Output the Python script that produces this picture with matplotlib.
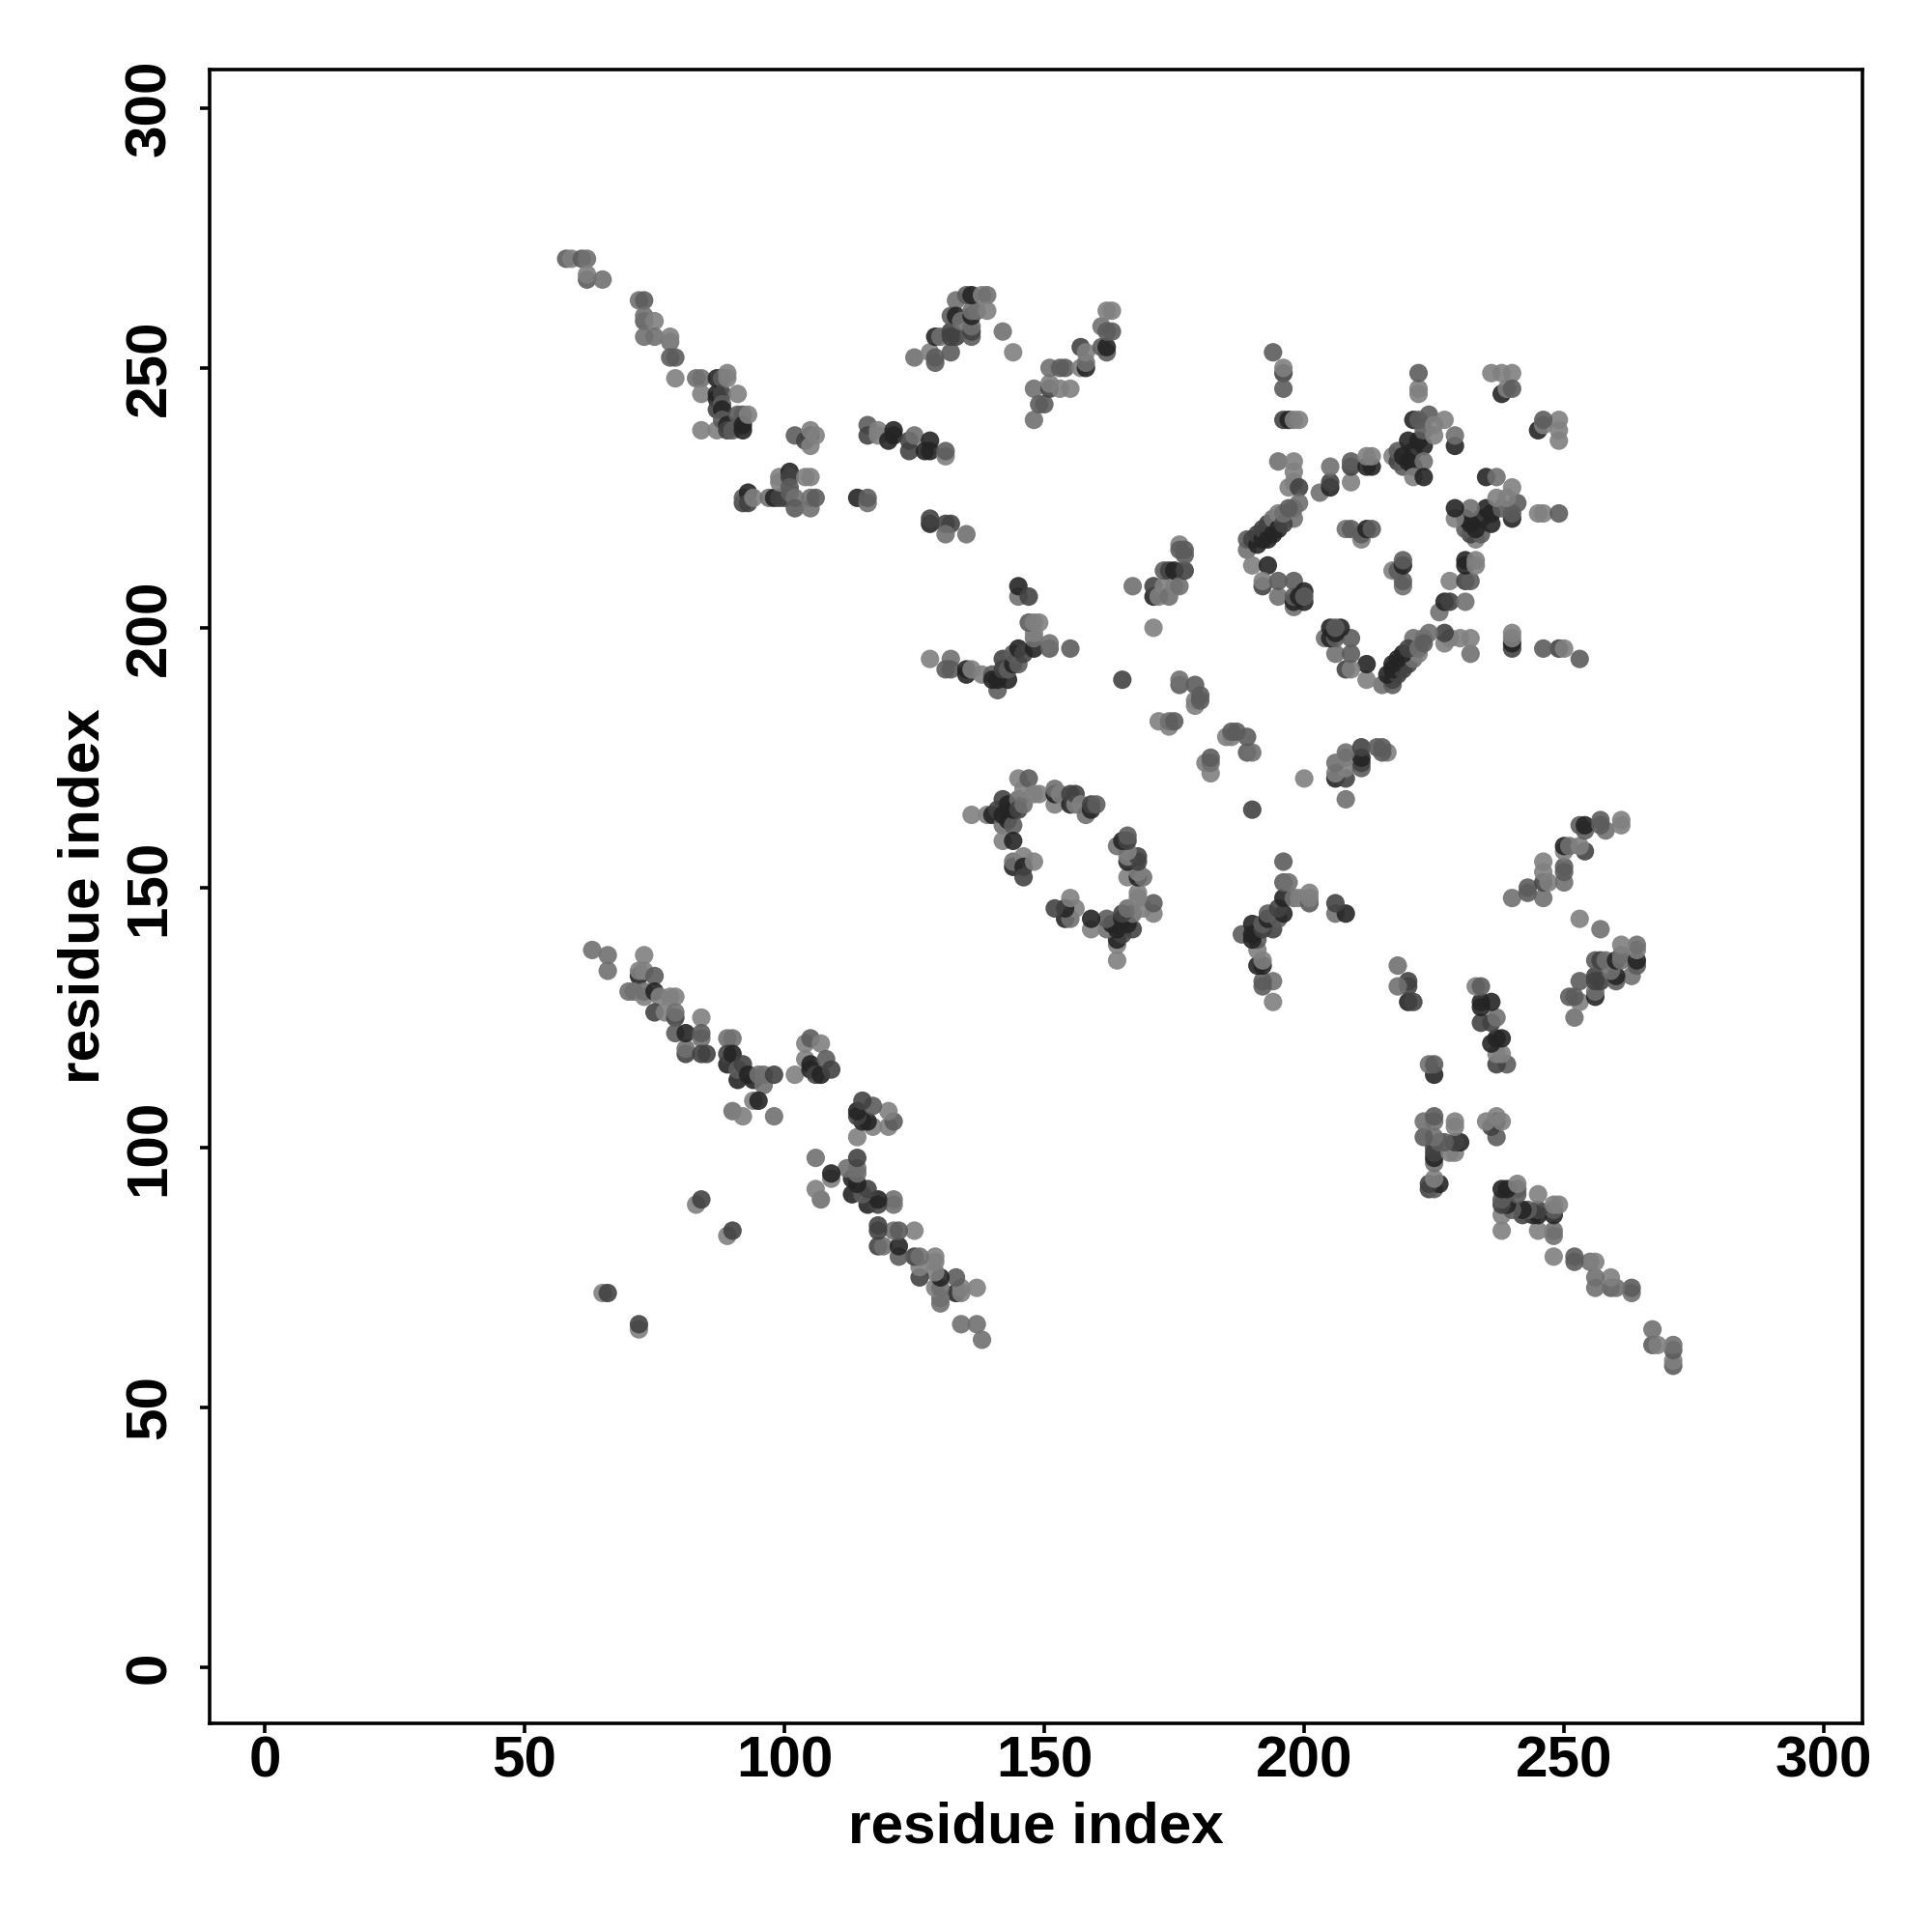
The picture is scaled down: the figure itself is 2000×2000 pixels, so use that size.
import matplotlib
matplotlib.use('Agg')
import matplotlib.pyplot as plt

# contacts as (residue i, residue j, strength 1..5), upper triangle only (j > i)
far_left = [
    (58, 271, 3), (59, 271, 1), (61, 271, 3), (62, 271, 2), (62, 267, 3), (62, 268, 1), (65, 267, 2),
    (72, 263, 2), (73, 263, 3), (73, 259, 3), (73, 260, 2), (75, 259, 1), (73, 256, 2), (75, 256, 2),
    (78, 255, 2), (78, 256, 1), (78, 252, 3), (79, 252, 3), (79, 248, 1),
]
tail_cluster = [
    (83, 248, 2), (84, 248, 2), (84, 245, 1), (84, 238, 1), (87, 248, 5), (87, 245, 5), (87, 244, 5),
    (87, 242, 4), (87, 238, 1), (88, 248, 3), (88, 245, 4), (88, 243, 3), (88, 242, 5), (88, 240, 3),
    (89, 249, 1), (89, 248, 1), (89, 239, 5), (89, 238, 4), (90, 238, 3), (91, 245, 1), (91, 241, 3),
    (92, 241, 3), (92, 239, 5), (92, 238, 5), (93, 241, 1),
    (102, 237, 3), (105, 237, 5), (104, 236, 4), (105, 238, 1), (105, 235, 1), (106, 237, 1),
]
mid_band = [
    (116, 239, 3), (116, 237, 4), (118, 237, 1), (118, 238, 1), (120, 236, 5), (121, 237, 5), (121, 238, 5),
    (124, 234, 4), (124, 236, 4), (125, 237, 2), (127, 234, 5), (128, 234, 5), (128, 236, 5),
    (131, 233, 1), (131, 234, 3),
]
low_band = [
    (92, 224, 4), (92, 225, 3), (93, 226, 5), (93, 224, 4), (94, 225, 1), (97, 225, 2), (98, 225, 5),
    (99, 225, 4), (100, 225, 4), (101, 226, 3), (99, 228, 1), (99, 229, 1), (101, 230, 5), (101, 229, 4),
    (101, 227, 3), (102, 225, 2), (102, 223, 3), (105, 225, 2), (105, 223, 2), (106, 225, 3),
    (104, 229, 1), (105, 229, 1), (114, 225, 5), (116, 224, 2), (116, 225, 3),
    (128, 220, 5), (128, 221, 4), (131, 220, 4), (132, 220, 4), (131, 218, 2), (135, 218, 2),
]
upper_mid = [
    (125, 252, 2), (128, 253, 1), (129, 252, 3), (129, 251, 3), (132, 253, 3), (129, 256, 5), (130, 256, 2),
    (132, 257, 4), (132, 256, 4), (133, 256, 4), (133, 263, 2), (132, 260, 3), (133, 260, 5), (134, 259, 2),
    (136, 256, 3), (136, 257, 4), (136, 258, 2), (136, 260, 5), (136, 261, 2), (137, 261, 2),
    (135, 264, 3), (136, 264, 5), (138, 264, 1), (139, 264, 2), (139, 261, 1), (142, 257, 2), (144, 253, 1),
    (148, 240, 2), (148, 246, 2), (149, 243, 3), (150, 243, 3), (151, 246, 4), (151, 247, 1), (151, 250, 2),
    (153, 250, 3), (154, 250, 3), (153, 246, 1), (155, 246, 1), (157, 250, 1), (158, 250, 5), (158, 251, 2),
    (157, 254, 4), (158, 253, 1), (161, 254, 3), (162, 253, 3), (162, 254, 5), (161, 258, 2), (162, 257, 3),
    (163, 257, 3), (162, 261, 1), (163, 261, 1),
]
center_arm = [
    (128, 194, 1), (132, 194, 2), (131, 192, 3), (132, 192, 3), (135, 191, 5), (135, 192, 5), (136, 192, 1),
    (138, 191, 1), (140, 191, 3), (141, 188, 3), (140, 190, 5), (141, 190, 5), (143, 190, 5), (142, 194, 4),
    (142, 192, 4), (143, 192, 3), (144, 193, 5), (145, 193, 3), (144, 195, 3), (145, 196, 5), (146, 195, 4),
    (148, 196, 5), (148, 198, 2), (148, 199, 1), (147, 201, 3), (148, 201, 1), (149, 201, 1),
    (151, 196, 3), (151, 197, 2), (155, 196, 3), (145, 206, 2), (145, 208, 5), (147, 206, 4),
    (167, 208, 2), (171, 200, 1), (165, 190, 4),
    (171, 206, 5), (171, 208, 4), (172, 206, 1), (173, 208, 1), (173, 211, 3), (174, 211, 4), (174, 206, 2),
    (175, 208, 1), (175, 211, 5), (176, 208, 2), (177, 211, 4), (176, 216, 1), (176, 215, 3), (177, 215, 3), (177, 214, 3),
    (172, 182, 1), (174, 181, 1), (174, 182, 2), (175, 182, 3),
    (176, 189, 3), (176, 190, 2), (179, 189, 3), (179, 186, 1), (179, 185, 1), (180, 186, 3), (180, 187, 3),
]
ring_top = [
    (136, 164, 1), (139, 164, 1), (140, 164, 5), (141, 165, 4), (142, 162, 2), (142, 164, 5), (142, 167, 4),
    (143, 163, 5), (143, 166, 5), (144, 162, 3), (144, 165, 5), (145, 167, 2), (145, 165, 4), (146, 166, 2),
    (145, 171, 1), (146, 169, 1), (147, 171, 3), (148, 168, 1), (149, 168, 1),
    (152, 166, 1), (152, 168, 5), (152, 169, 2), (153, 168, 1), (155, 166, 5), (155, 168, 4), (156, 166, 1),
    (156, 168, 4), (157, 166, 1), (158, 164, 2), (159, 165, 5), (159, 166, 4), (160, 166, 3),
    (142, 159, 1), (144, 159, 5), (144, 154, 5), (144, 155, 2), (146, 156, 1), (146, 154, 5), (148, 155, 1), (146, 152, 4),
]
ring_right = [
    (194, 253, 3), (196, 249, 4), (196, 250, 1), (196, 246, 3), (196, 240, 4), (197, 240, 5), (198, 240, 1), (199, 240, 1),
    (195, 232, 2), (198, 232, 1), (198, 230, 1), (197, 227, 1), (198, 228, 1), (199, 227, 4), (198, 223, 2),
    (199, 224, 2), (198, 221, 2),
    (189, 215, 2), (189, 217, 3), (190, 217, 4), (190, 212, 1), (191, 216, 5), (191, 218, 4), (192, 217, 5),
    (192, 219, 4), (193, 217, 5), (193, 220, 4), (194, 218, 5), (194, 221, 2), (195, 219, 5), (195, 222, 1),
    (196, 220, 4), (196, 222, 2), (197, 223, 3), (193, 212, 5),
    (192, 208, 4), (192, 209, 1), (195, 206, 2), (195, 209, 3), (198, 204, 2), (198, 205, 5), (198, 209, 3),
    (198, 206, 3), (199, 206, 5), (200, 205, 5), (200, 207, 5), (200, 206, 3),
    (203, 226, 2), (205, 227, 5), (205, 228, 4), (205, 231, 2), (209, 228, 1), (209, 231, 4), (209, 232, 3),
    (212, 231, 5), (213, 231, 5), (212, 233, 1), (213, 233, 1),
    (208, 219, 2), (209, 219, 3), (211, 217, 1), (211, 218, 3), (212, 219, 5), (213, 219, 3),
]
ring_corner = [
    (217, 233, 1), (218, 232, 4), (218, 234, 3), (219, 231, 3), (219, 233, 5), (220, 232, 5), (220, 236, 5),
    (221, 231, 5), (221, 234, 5), (221, 229, 1), (221, 240, 5), (222, 236, 5), (222, 240, 3), (223, 235, 5),
    (223, 238, 3), (223, 232, 2), (223, 229, 5), (224, 241, 3), (225, 237, 1), (225, 239, 1), (227, 240, 1),
    (222, 245, 1), (222, 246, 1), (222, 249, 3), (229, 235, 5), (229, 237, 2),
    (236, 249, 1), (238, 249, 1), (240, 249, 1), (238, 245, 5), (239, 246, 1), (240, 246, 3),
]
near_diag = [
    (63, 138, 2), (66, 137, 2), (66, 134, 2), (73, 137, 1), (72, 133, 5), (72, 134, 1), (73, 134, 1), (75, 133, 3),
    (70, 130, 2), (71, 130, 2), (73, 129, 1), (73, 130, 2), (75, 130, 5), (76, 129, 1), (78, 129, 1), (79, 129, 1),
    (75, 126, 4), (77, 126, 1), (79, 125, 4), (79, 126, 2), (79, 122, 3), (81, 118, 4), (81, 119, 2), (81, 122, 5),
    (84, 125, 1), (84, 121, 2), (84, 122, 3), (84, 118, 4), (85, 118, 4),
    (89, 121, 2), (90, 121, 2), (89, 116, 5), (89, 118, 4), (90, 118, 5), (91, 113, 5), (91, 115, 3), (92, 116, 4),
    (93, 114, 5), (94, 113, 5), (95, 114, 2), (96, 114, 2), (96, 112, 2), (98, 114, 4), (102, 114, 1),
    (94, 109, 1), (95, 109, 5), (90, 107, 2), (92, 106, 1), (98, 106, 2),
    (104, 117, 1), (104, 120, 1), (105, 115, 5), (105, 116, 5), (105, 121, 3), (106, 114, 4), (107, 114, 5),
    (107, 120, 1), (108, 117, 3), (109, 115, 4),
    (65, 72, 1), (66, 72, 4), (83, 89, 1), (84, 90, 4),
]

tick_values = [0, 50, 100, 150, 200, 250, 300]
axis_title = 'residue index'
# grey of one dot per strength
shades = {1: 0.50, 2: 0.44, 3: 0.36, 4: 0.26, 5: 0.14}


def main():
    plt.rcParams['font.family'] = ['Liberation Sans', 'DejaVu Sans']
    plt.rcParams['font.weight'] = 'bold'

    contacts = far_left + tail_cluster + mid_band + low_band + upper_mid + center_arm \
        + ring_top + ring_right + ring_corner + near_diag
    first = [c[0] for c in contacts]
    second = [c[1] for c in contacts]
    colors = [str(shades[c[2]]) for c in contacts]

    fig = plt.figure(figsize=(20, 20), dpi=100)
    ax = fig.add_axes([216.5 / 2000, 1 - 1784 / 2000, (1928.5 - 216.5) / 2000, (1784 - 71.5) / 2000])

    # the map is symmetric, draw both halves
    ax.scatter(first, second, s=190, c=colors, alpha=0.9, linewidths=0)
    ax.scatter(second, first, s=190, c=colors, alpha=0.9, linewidths=0)

    ax.set_xlim(-10.7, 307.5)
    ax.set_ylim(-10.8, 307.5)
    ax.set_xticks(tick_values)
    ax.set_yticks(tick_values)
    ax.tick_params(axis='both', length=7, width=2.6, labelsize=43.4)
    ax.tick_params(axis='x', pad=2)
    ax.tick_params(axis='y', pad=17)
    for label in ax.get_yticklabels():
        label.set_rotation(90)
        label.set_va('center')
    for spine in ax.spines.values():
        spine.set_linewidth(2.6)

    ax.set_xlabel(axis_title, fontsize=43.4, fontweight='bold', labelpad=9)
    ax.set_ylabel(axis_title, fontsize=43.4, fontweight='bold', labelpad=10)

    fig.savefig('out.png', dpi=100)


if __name__ == '__main__':
    main()
